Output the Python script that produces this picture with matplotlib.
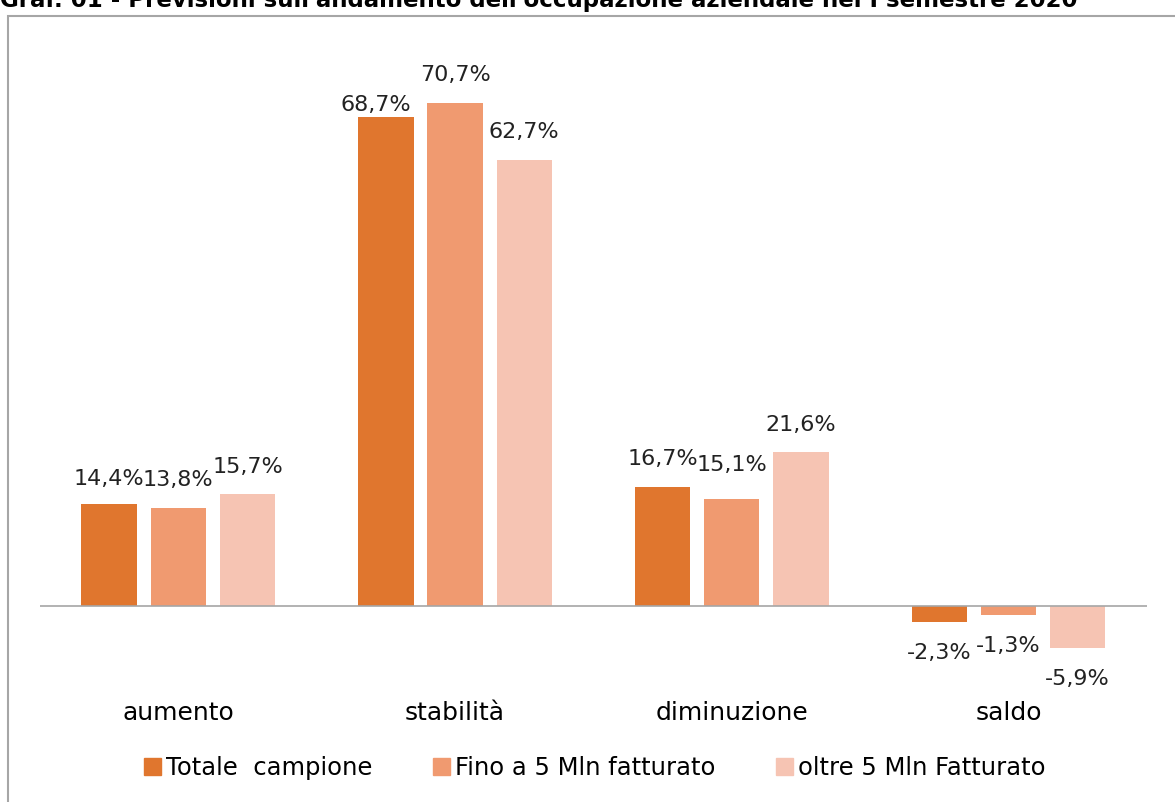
import matplotlib
matplotlib.use("Agg")
import matplotlib.pyplot as plt
import numpy as np
from matplotlib.patches import Patch, Rectangle

categories = ["aumento", "stabilità", "diminuzione", "saldo"]
series_names = ["Totale  campione", "Fino a 5 Mln fatturato", "oltre 5 Mln Fatturato"]
totale = [14.4, 68.7, 16.7, -2.3]
fino_5 = [13.8, 70.7, 15.1, -1.3]
oltre_5 = [15.7, 62.7, 21.6, -5.9]
title = "Graf. 01 - Previsioni sull'andamento dell'occupazione aziendale nel I semestre 2020"

colors = ["#E0762E", "#F09A70", "#F6C4B3"]
plt.rcParams['font.family'] = ['DejaVu Sans']

fig = plt.figure(figsize=(11.75, 8.02), dpi=100)
ax = fig.add_axes([0.034, 0.138, 0.942, 0.798])

x = np.arange(len(categories))
width = 0.2
step = 0.25
# label offsets in points (dx, dy) for a few crowded labels
nudge = {(0, 1): (-7, -11), (0, 0): (0, -2), (1, 2): (0, 4)}

for s, (vals, name, col) in enumerate(zip([totale, fino_5, oltre_5], series_names, colors)):
    xs = x + (s - 1) * step
    ax.bar(xs, vals, width=width, color=col, label=name)
    for c, (xi, v) in enumerate(zip(xs, vals)):
        dx, dy = nudge.get((s, c), (0, 0))
        base = 20 if v >= 0 else -22
        ax.annotate(f"{v:.1f}%".replace(".", ","), (xi, v), xytext=(dx, base + dy),
                    textcoords="offset points", ha="center", va="center",
                    fontsize=16, color="#222222")

ax.axhline(0, color="#A6A6A6", lw=1.2)
ax.set_xlim(-0.5, 3.5)
ax.set_ylim(-12, 78)
ax.set_xticks(x)
ax.set_xticklabels(categories, fontsize=18)
ax.tick_params(axis="x", length=0, pad=7)
ax.set_yticks([])
for sp in ax.spines.values():
    sp.set_visible(False)

handles = [Patch(color=c) for c in colors]
fig.legend(handles, series_names, loc="center", bbox_to_anchor=(0.506, 0.042), ncol=3,
           frameon=False, fontsize=17.5, handlelength=0.7, handleheight=0.7,
           handletextpad=0.2, columnspacing=2.5)

# outer frame of the chart
fig.patches.append(Rectangle((8 / 1175, -0.01), 1.0, 1 - 16 / 802 + 0.01,
                             transform=fig.transFigure, fill=False,
                             edgecolor="#A6A6A6", lw=1.5))
fig.text(0.0, 1 - 7 / 802, title, fontsize=16.5, fontweight="bold", va="baseline", ha="left")

fig.savefig("out.png", dpi=100)
